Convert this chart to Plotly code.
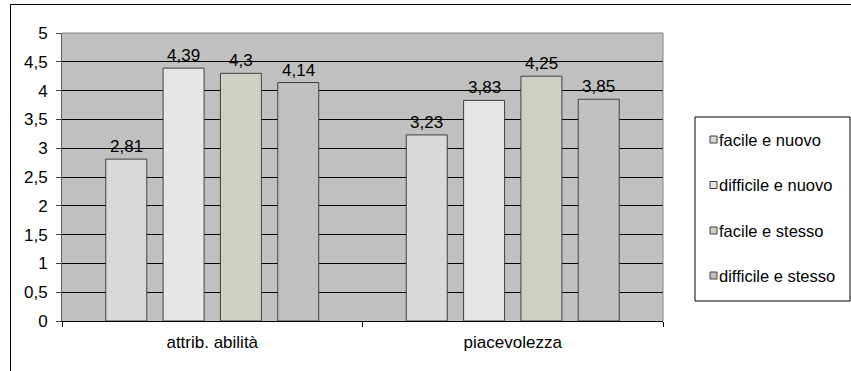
import plotly.graph_objects as go

# Data
categories = ["attrib. abilità", "piacevolezza"]
series_names = ["facile e nuovo", "difficile e nuovo", "facile e stesso", "difficile e stesso"]
facile_nuovo = [2.81, 3.23]
difficile_nuovo = [4.39, 3.83]
facile_stesso = [4.30, 4.25]
difficile_stesso = [4.14, 3.85]
series_values = [facile_nuovo, difficile_nuovo, facile_stesso, difficile_stesso]
y_ticks = [0, 0.5, 1, 1.5, 2, 2.5, 3, 3.5, 4, 4.5, 5]

# Styling
colors = ["#D9D9D9", "#E6E6E6", "#CFCFC3", "#C0C0C0"]
FONT = "Liberation Sans, Arial, sans-serif"
FS = 17
W, H = 851, 371
ML, MR, MT, MB = 62, 188, 33, 50
BARGAP = 0.237
GROUPGAP = 0.285

def fmt(v):
    return ("%g" % v).replace(".", ",")

fig = go.Figure()
for name, vals, col in zip(series_names, series_values, colors):
    fig.add_trace(go.Bar(
        x=categories, y=vals, name=name,
        marker=dict(color=col, line=dict(color="#404040", width=1)),
        showlegend=False, hoverinfo="skip",
    ))

# Value labels above each bar
plot_w = W - ML - MR
plot_h = H - MT - MB
slot = (1 - BARGAP) * plot_w / len(categories) / len(series_names)
annotations = []
for i, vals in enumerate(series_values):
    off = (i - (len(series_names) - 1) / 2) * slot
    for c, v in zip(categories, vals):
        annotations.append(dict(
            x=c, y=v, xref="x", yref="y", text=fmt(v), showarrow=False,
            xshift=off, yshift=1, yanchor="bottom",
            font=dict(family=FONT, size=FS, color="#000000"),
        ))

# Legend box (pixel positions converted to paper coordinates)
def px_x(p):
    return (p - ML) / plot_w

def px_y(p):
    return (H - MB - p) / plot_h

shapes = []
shapes.append(dict(type="rect", xref="paper", yref="paper",
                   x0=px_x(695), x1=px_x(850), y0=px_y(301), y1=px_y(117),
                   line=dict(color="#000000", width=1), fillcolor="white", layer="above"))
legend_y = [139.5, 185, 230.5, 275.5]
for name, col, ly in zip(series_names, colors, legend_y):
    shapes.append(dict(type="rect", xref="paper", yref="paper",
                       x0=px_x(710), x1=px_x(717), y0=px_y(ly + 3.5), y1=px_y(ly - 3.5),
                       line=dict(color="#404040", width=1), fillcolor=col, layer="above"))
    annotations.append(dict(x=px_x(717), y=px_y(ly), xref="paper", yref="paper",
                            text=name, showarrow=False, xanchor="left", yanchor="middle",
                            font=dict(family=FONT, size=16.5, color="#000000")))

# Plot-area border (top and right) in gray
shapes.append(dict(type="line", xref="paper", yref="paper", x0=0, x1=1, y0=1, y1=1,
                   line=dict(color="#808080", width=1), layer="above"))
shapes.append(dict(type="line", xref="paper", yref="paper", x0=1, x1=1, y0=0, y1=1,
                   line=dict(color="#808080", width=1), layer="above"))
# Outer chart frame
shapes.append(dict(type="rect", xref="paper", yref="paper",
                   x0=px_x(10.5), x1=px_x(900), y0=px_y(420), y1=px_y(4.5),
                   line=dict(color="#000000", width=1), fillcolor="rgba(0,0,0,0)", layer="above"))

fig.update_layout(
    width=W, height=H,
    margin=dict(l=ML, r=MR, t=MT, b=MB),
    paper_bgcolor="white", plot_bgcolor="#C0C0C0",
    barmode="group", bargap=BARGAP, bargroupgap=GROUPGAP,
    separators=",.",
    font=dict(family=FONT, size=FS, color="#000000"),
    annotations=annotations, shapes=shapes,
    showlegend=False,
)
fig.update_xaxes(
    type="category", showgrid=False, zeroline=False,
    showline=True, linecolor="#000000", linewidth=1,
    ticks="outside", tickson="boundaries", ticklen=5, tickcolor="#000000",
    tickfont=dict(family=FONT, size=FS), ticklabelstandoff=6,
)
fig.update_yaxes(
    range=[0, 5], tickvals=y_ticks, showgrid=True, gridcolor="#000000", gridwidth=1,
    zeroline=False, showline=True, linecolor="#606060", linewidth=1,
    ticks="outside", ticklen=5, tickcolor="#404040",
    tickfont=dict(family=FONT, size=FS), ticklabelstandoff=5,
)

fig.write_html("out.html")
